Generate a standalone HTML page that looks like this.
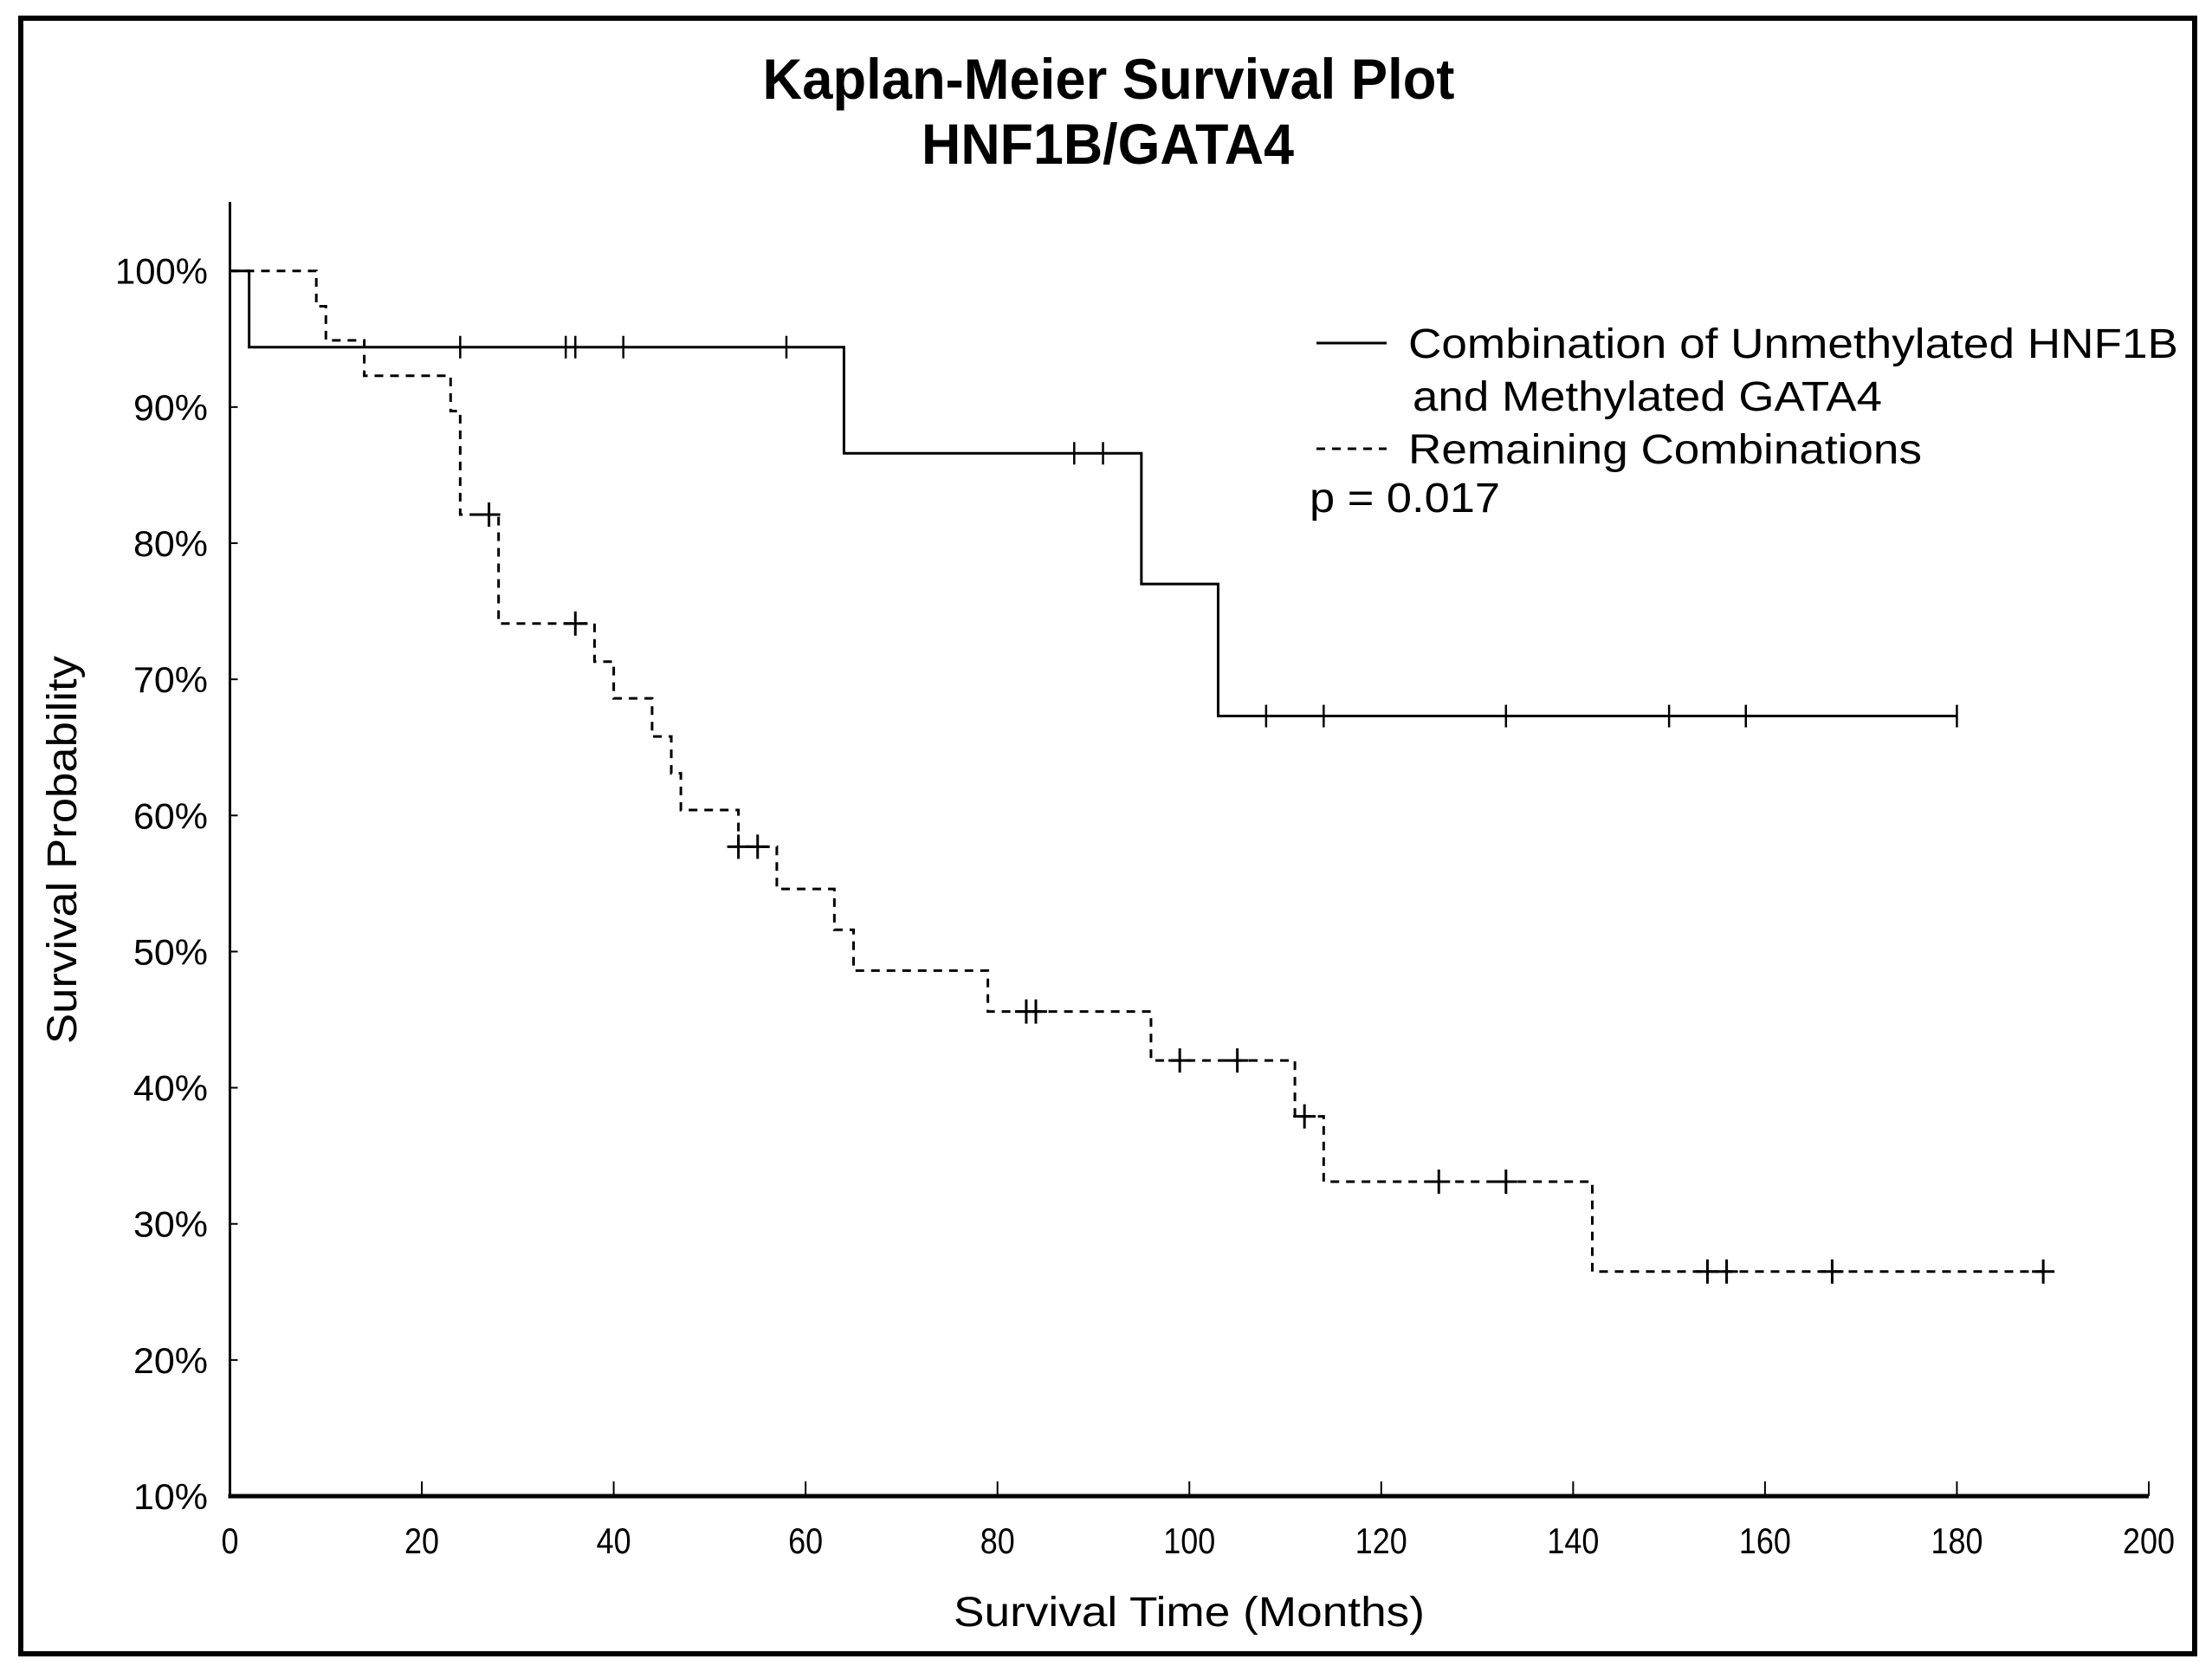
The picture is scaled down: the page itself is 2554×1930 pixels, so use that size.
<!DOCTYPE html>
<html><head><meta charset="utf-8"><style>
html,body{margin:0;padding:0;background:#fff;}
svg{display:block;}
text{font-family:"Liberation Sans",Arial,sans-serif;fill:#000;}
</style></head><body>
<svg id="chart" width="2554" height="1930" viewBox="0 0 2554 1930" xmlns="http://www.w3.org/2000/svg">
<rect x="24" y="21" width="2510" height="1888" fill="#fff" stroke="#000" stroke-width="6"/>
<text x="1280" y="114" text-anchor="middle" font-size="66" font-weight="bold" textLength="799" lengthAdjust="spacingAndGlyphs">Kaplan-Meier Survival Plot</text>
<text x="1279" y="189" text-anchor="middle" font-size="66" font-weight="bold" textLength="430" lengthAdjust="spacingAndGlyphs">HNF1B/GATA4</text>
<text transform="translate(88,981) rotate(-90)" text-anchor="middle" font-size="48" textLength="448" lengthAdjust="spacingAndGlyphs">Survival Probability</text>
<text x="1373" y="1877" text-anchor="middle" font-size="48" textLength="544" lengthAdjust="spacingAndGlyphs">Survival Time (Months)</text>
<g id="axes"></g>
<g id="series"></g>
<g>
<line x1="1520" y1="396" x2="1601" y2="396" stroke="#000" stroke-width="3"/>
<text x="1626" y="413" font-size="48" textLength="889" lengthAdjust="spacingAndGlyphs">Combination of Unmethylated HNF1B</text>
<text x="1631" y="474" font-size="48" textLength="542" lengthAdjust="spacingAndGlyphs">and Methylated GATA4</text>
<line x1="1520" y1="518" x2="1601" y2="518" stroke="#000" stroke-width="3" stroke-dasharray="10,8"/>
<text x="1626" y="535" font-size="48" textLength="593" lengthAdjust="spacingAndGlyphs">Remaining Combinations</text>
<text x="1512" y="591" font-size="48" textLength="220" lengthAdjust="spacingAndGlyphs">p = 0.017</text>
</g>
</svg>
<script>
const xTicks = [0,20,40,60,80,100,120,140,160,180,200];
const yTicks = [10,20,30,40,50,60,70,80,90,100];
const solidTimes = [0,2,64,95,103,180];
const solidSurv = [100,94.4,86.6,77.0,67.3,67.3];
const solidCensor = [24,35,36,41,58,88,91,108,114,133,150,158,180];
const dashTimes = [0,9,10,14,23,24,28,38,40,44,46,47,53,57,63,65,79,96,111,114,142,189];
const dashSurv = [100,97.4,94.9,92.3,89.7,82.1,74.1,71.3,68.6,65.8,63.1,60.4,57.7,54.6,51.6,48.6,45.6,42.0,37.9,33.1,26.5,26.5];
const dashCensor = [27,36,53,55,83,84,99,105,112,126,133,154,156,167,189];

const NS="http://www.w3.org/2000/svg";
const X0=265.5,X1=2481,Y100=312.7,Y10=1727;
const xs=t=>X0+(X1-X0)*t/200;
const ys=p=>Y10-(Y10-Y100)*(p-10)/90;
function mk(tag,attrs,parent){const e=document.createElementNS(NS,tag);for(const k in attrs)e.setAttribute(k,attrs[k]);parent.appendChild(e);return e;}
const axes=document.getElementById('axes'), series=document.getElementById('series');
let e;
e=mk('line',{x1:X0,y1:233,x2:X0,y2:Y10,stroke:'#000','stroke-width':3},axes);


e=mk('line',{x1:X0-2,y1:Y10,x2:X1,y2:Y10,stroke:'#000','stroke-width':5},axes);


xTicks.forEach(v=>{
  const t=mk('line',{x1:xs(v),y1:Y10,x2:xs(v),y2:Y10-17,stroke:'#000','stroke-width':2},axes);
  
  
  const s=String(v);
  const l=mk('text',{x:xs(v),y:1793,'text-anchor':'middle','font-size':42,textLength:s.length*20,lengthAdjust:'spacingAndGlyphs'},axes);
  l.textContent=s;
  
  
});
yTicks.forEach(v=>{
  const t=mk('line',{x1:X0,y1:ys(v),x2:X0+9,y2:ys(v),stroke:'#000','stroke-width':2},axes);
  
  
  const s=v+'%';
  const l=mk('text',{x:240,y:ys(v)+15,'text-anchor':'end','font-size':42,textLength:s.length==4?107:86,lengthAdjust:'spacingAndGlyphs'},axes);
  l.textContent=s;
  
  
});
function stepPath(times,surv){
  let d='M'+xs(times[0])+','+ys(surv[0]);
  for(let i=1;i<times.length;i++){d+=' H'+xs(times[i])+' V'+ys(surv[i]);}
  return d;
}
function survAt(times,surv,t){let s=surv[0];for(let i=0;i<times.length;i++){if(times[i]<=t)s=surv[i];}return s;}
e=mk('path',{d:stepPath(solidTimes,solidSurv),fill:'none',stroke:'#000','stroke-width':3},series);


e=mk('path',{d:stepPath(dashTimes,dashSurv),fill:'none',stroke:'#000','stroke-width':3,'stroke-dasharray':'10,8'},series);


solidCensor.forEach(t=>{
  const y=ys(survAt(solidTimes,solidSurv,t));
  const c=mk('line',{x1:xs(t),y1:y-13,x2:xs(t),y2:y+13,stroke:'#000','stroke-width':2.5},series);
  
  
});
dashCensor.forEach(t=>{
  const y=ys(survAt(dashTimes,dashSurv,t)),x=xs(t);
  const c=mk('path',{d:`M${x-13},${y} H${x+13} M${x},${y-14} V${y+14}`,stroke:'#000','stroke-width':3,fill:'none'},series);
  
  
});
</script>
</body></html>
